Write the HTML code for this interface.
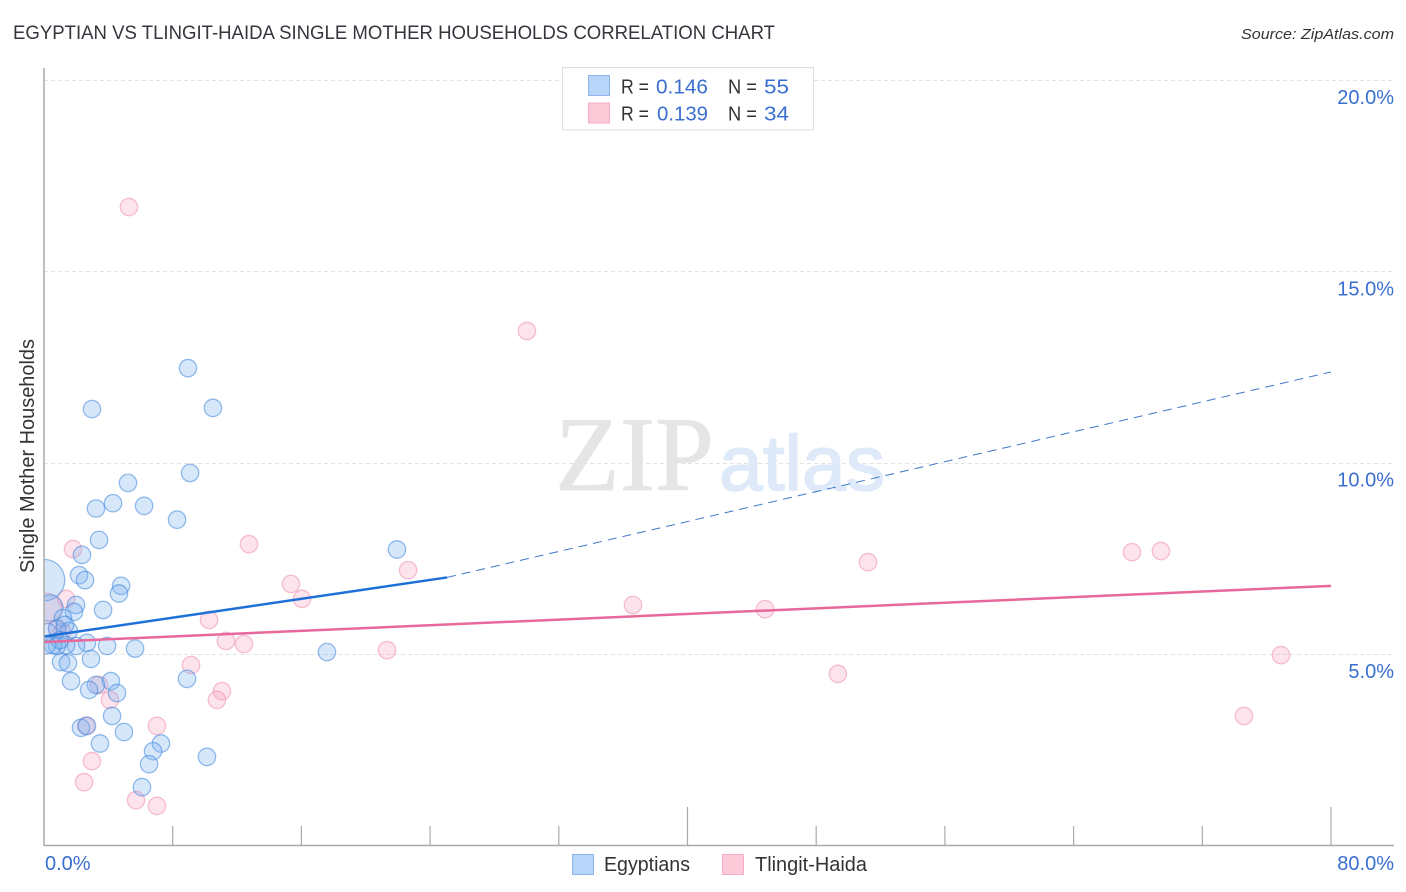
<!DOCTYPE html>
<html lang="en">
<head>
<meta charset="utf-8">
<title>Egyptian vs Tlingit-Haida Single Mother Households Correlation Chart</title>
<style>
html,body{margin:0;padding:0;background:#fff;width:1406px;height:892px;overflow:hidden}
svg{display:block;font-family:"Liberation Sans",sans-serif}
</style>
</head>
<body>
<svg id="chart" xmlns="http://www.w3.org/2000/svg" width="1406" height="892" viewBox="0 0 1406 892">
  <defs><clipPath id="plot-clip"><rect x="44" y="60" width="1350" height="786"/></clipPath></defs>
  <rect x="0" y="0" width="1406" height="892" fill="#ffffff"/>
  <text x="13" y="39" font-size="19" fill="#33363c" textLength="762" lengthAdjust="spacingAndGlyphs">EGYPTIAN VS TLINGIT-HAIDA SINGLE MOTHER HOUSEHOLDS CORRELATION CHART</text>
  <text x="1241" y="39" font-size="15" font-style="italic" fill="#333333" textLength="153" lengthAdjust="spacingAndGlyphs">Source: ZipAtlas.com</text>
  <g id="grid"></g>
  <g>
    <text x="555" y="490" font-family="'Liberation Serif',serif" font-size="106" fill="#e5e5e5" stroke="#e5e5e5" stroke-width="0.8" textLength="159" lengthAdjust="spacingAndGlyphs">ZIP</text>
    <text x="719" y="490" font-size="78" fill="#deeafa" stroke="#deeafa" stroke-width="1.6" textLength="166" lengthAdjust="spacingAndGlyphs">atlas</text>
  </g>
  <g clip-path="url(#plot-clip)">
    <g id="points-tlingit"></g>
    <g id="points-egyptian"></g>
  </g>
  <g id="trends"></g>
  <g id="axes"></g>
  <text transform="translate(34,456) rotate(-90)" text-anchor="middle" font-size="20" fill="#333333" textLength="234" lengthAdjust="spacingAndGlyphs">Single Mother Households</text>
  <g>
    <rect x="562.5" y="67.5" width="251" height="62.5" fill="#ffffff" stroke="#dddddd" stroke-width="1"/>
    <rect x="588.5" y="75.5" width="21" height="20" fill="#b9d4f9" stroke="#8fb5ea" stroke-width="1"/>
    <rect x="588.5" y="103" width="21" height="20" fill="#fcc9d9" stroke="#f3aec6" stroke-width="1"/>
    <g font-size="20">
      <text x="621" y="93.5" fill="#333333" textLength="28" lengthAdjust="spacingAndGlyphs">R =</text>
      <text x="656" y="93.5" fill="#3a6fd0" textLength="52" lengthAdjust="spacingAndGlyphs">0.146</text>
      <text x="728" y="93.5" fill="#333333" textLength="29" lengthAdjust="spacingAndGlyphs">N =</text>
      <text x="764" y="93.5" fill="#3a6fd0" textLength="25" lengthAdjust="spacingAndGlyphs">55</text>
      <text x="621" y="120.5" fill="#333333" textLength="28" lengthAdjust="spacingAndGlyphs">R =</text>
      <text x="657" y="120.5" fill="#3a6fd0" textLength="51" lengthAdjust="spacingAndGlyphs">0.139</text>
      <text x="728" y="120.5" fill="#333333" textLength="29" lengthAdjust="spacingAndGlyphs">N =</text>
      <text x="764" y="120.5" fill="#3a6fd0" textLength="25" lengthAdjust="spacingAndGlyphs">34</text>
    </g>
  </g>
  <g>
    <rect x="572.5" y="854.5" width="21" height="20" fill="#b9d4f9" stroke="#8fb5ea" stroke-width="1"/>
    <text x="604" y="871" font-size="20" fill="#333333" textLength="86" lengthAdjust="spacingAndGlyphs">Egyptians</text>
    <rect x="722.5" y="854.5" width="21" height="20" fill="#fcc9d9" stroke="#f3aec6" stroke-width="1"/>
    <text x="755" y="871" font-size="20" fill="#333333" textLength="112" lengthAdjust="spacingAndGlyphs">Tlingit-Haida</text>
  </g>
</svg>
<script>
// ---- chart data (x and y are percentages) ----
const yTickValues = [5, 10, 15, 20];
const yTickLabels = ["5.0%", "10.0%", "15.0%", "20.0%"];
const xTickValues = [8, 16, 24, 32, 40, 48, 56, 64, 72, 80];
const xMajorTicks = [40, 80];
const xEndLabels = ["0.0%", "80.0%"];

const egyptianX = [2.98,8.95,10.5,9.08,5.22,3.23,4.29,6.22,8.27,3.42,2.36,2.18,2.55,4.79,4.66,1.99,1.86,3.67,0,0.37,1.18,0.81,1.55,2.67,3.92,5.66,1.99,1.37,0.81,0.56,2.92,1.06,1.49,1.68,4.16,3.23,2.8,4.54,8.89,4.23,4.97,2.3,2.67,3.48,7.27,6.78,6.53,6.09,10.13,17.59,21.94,0.25,1.31,0.99,0.19];
const egyptianY = [11.4,12.47,11.43,9.73,9.47,8.8,8.94,8.87,8.51,7.98,7.59,7.06,6.93,6.78,6.58,6.28,6.1,6.15,6.93,6.2,5.94,5.65,5.6,5.29,5.21,5.14,5.21,5.23,5.21,5.23,4.87,4.79,4.76,4.29,4.29,4.19,4.06,3.98,4.35,3.38,2.96,3.07,3.12,2.66,2.66,2.46,2.12,1.52,2.31,5.05,7.73,5.57,5.76,5.36,5.23];
const egyptianWeight = [1,1,1,1,1,1,1,1,1,1,1,1,1,1,1,1,1,1,5.7,2.3,1,1,1,1,1,1,1,1,1,1,1,1,1,1,1,1,1,1,1,1,1,1,1,1,1,1,1,1,1,1,1,1,1,1,1];

const tlingitX = [5.28,30.02,12.74,1.8,22.63,15.35,16.04,1.37,0.19,10.26,36.61,44.82,51.22,67.63,69.43,76.89,74.59,49.35,11.31,12.43,21.32,9.14,11.06,10.75,3.42,4.1,2.61,7.02,2.98,2.49,5.72,7.02,1.12,0.81];
const tlingitY = [16.68,13.44,7.87,7.74,7.19,6.83,6.44,6.44,6.2,5.89,6.28,6.17,7.4,7.66,7.69,4.97,3.38,4.48,5.34,5.26,5.1,4.71,4.03,3.8,4.19,3.8,3.12,3.12,2.2,1.65,1.18,1.03,5.57,5.68];
const tlingitWeight = [1,1,1,1,1,1,1,1,2.9,1,1,1,1,1,1,1,1,1,1,1,1,1,1,1,1,1,1,1,1,1,1,1,1,1];

const egyptianTrendX = [0, 25.05];
const egyptianTrendY = [5.456, 7.0];
const egyptianProjectionX = [25.05, 80];
const egyptianProjectionY = [7.0, 12.37];
const tlingitTrendX = [0, 80];
const tlingitTrendY = [5.31, 6.78];

// ---- axis functions ----
const NS = "http://www.w3.org/2000/svg";
function sx(v) { return 44 + v * (1287 / 80); }
function sy(v) { return 845.3 - v * (574 / 15); }
function mk(parent, tag, attrs, text) {
  const el = document.createElementNS(NS, tag);
  for (const k in attrs) el.setAttribute(k, attrs[k]);
  if (text !== undefined) el.textContent = text;
  parent.appendChild(el);
  return el;
}

const grid = document.getElementById("grid");
const axes = document.getElementById("axes");
const trends = document.getElementById("trends");

yTickValues.forEach(function (v, i) {
  const y = Math.round(sy(v)) + 0.5;
  const g = mk(grid, "line", {x1: 44, x2: 1394, y1: y, y2: y, stroke: "#e2e2e2", "stroke-width": 1, "stroke-dasharray": "4 3"});
  
  
  const t = mk(axes, "text", {x: 1394, y: sy(v) + 24, "text-anchor": "end", "font-size": 20, fill: "#3a6fd0"}, yTickLabels[i]);
  
  
});

const yAxis = mk(axes, "line", {x1: 44, x2: 44, y1: 68, y2: 846, stroke: "#aaaaaa", "stroke-width": 1.5});


const xAxis = mk(axes, "line", {x1: 44, x2: 1394, y1: 845.5, y2: 845.5, stroke: "#aaaaaa", "stroke-width": 1.5});



xTickValues.forEach(function (v) {
  const x = sx(v);
  const top = xMajorTicks.indexOf(v) >= 0 ? 807 : 826;
  const tick = mk(axes, "line", {x1: x, x2: x, y1: top, y2: 845, stroke: "#aaaaaa", "stroke-width": 1.2});
  
  
});

const xStart = mk(axes, "text", {x: 45, y: 870, "font-size": 20, fill: "#3a6fd0"}, xEndLabels[0]);


const xEnd = mk(axes, "text", {x: 1394, y: 870, "text-anchor": "end", "font-size": 20, fill: "#3a6fd0"}, xEndLabels[1]);



function drawPoints(groupId, xs, ys, weights, fill, stroke) {
  const g = document.getElementById(groupId);
  xs.forEach(function (v, i) {
    const c = mk(g, "circle", {
      cx: sx(v), cy: sy(ys[i]), r: 8.7 * Math.sqrt(weights[i]),
      fill: fill, "fill-opacity": 0.3, stroke: stroke, "stroke-opacity": 0.55, "stroke-width": 1.3
    });
    
    
  });
}
drawPoints("points-tlingit", tlingitX, tlingitY, tlingitWeight, "#f7a1bd", "#ec8fae");
drawPoints("points-egyptian", egyptianX, egyptianY, egyptianWeight, "#7aaeee", "#3f86dc");

const projection = mk(trends, "line", {
  x1: sx(egyptianProjectionX[0]), y1: sy(egyptianProjectionY[0]),
  x2: sx(egyptianProjectionX[1]), y2: sy(egyptianProjectionY[1]),
  stroke: "#3f76c8", "stroke-width": 1, "stroke-dasharray": "9 6"
});



const tlingitLine = mk(trends, "line", {
  x1: sx(tlingitTrendX[0]), y1: sy(tlingitTrendY[0]),
  x2: sx(tlingitTrendX[1]), y2: sy(tlingitTrendY[1]),
  stroke: "#e8689b", "stroke-width": 2.5
});



const egyptianLine = mk(trends, "line", {
  x1: sx(egyptianTrendX[0]), y1: sy(egyptianTrendY[0]),
  x2: sx(egyptianTrendX[1]), y2: sy(egyptianTrendY[1]),
  stroke: "#1f6fd8", "stroke-width": 2.5
});


</script>
</body>
</html>
